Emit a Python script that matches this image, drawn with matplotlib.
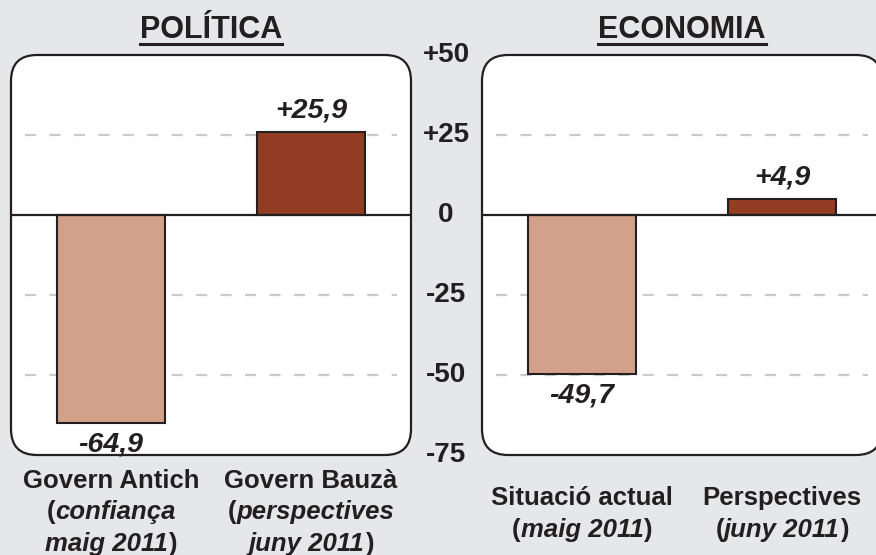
import matplotlib
matplotlib.use("Agg")
import matplotlib.pyplot as plt
from matplotlib.patches import FancyBboxPatch
from matplotlib.transforms import blended_transform_factory
from matplotlib.lines import Line2D

# ─────────────────────────────────────────────
# DADES
# ─────────────────────────────────────────────
PANEL_TITLES = ["POLÍTICA", "ECONOMIA"]
POLITICA_VALUES = [-64.9, 25.9]
ECONOMIA_VALUES = [-49.7, 4.9]

# cada etiqueta : llista de línies, cada línia : llista de (text, estil)
POLITICA_LABELS = [
    [[("Govern Antich", "b")], [("(", "b"), ("confiança", "bi")], [("maig 2011", "bi"), (")", "b")]],
    [[("Govern Bauzà", "b")], [("(", "b"), ("perspectives", "bi")], [("juny 2011", "bi"), (")", "b")]],
]
ECONOMIA_LABELS = [
    [[("Situació actual", "b")], [("(", "b"), ("maig 2011", "bi"), (")", "b")]],
    [[("Perspectives", "b")], [("(", "b"), ("juny 2011", "bi"), (")", "b")]],
]

Y_TICKS = [50, 25, 0, -25, -50, -75]
Y_TICK_LABELS = ["+50", "+25", "0", "-25", "-50", "-75"]
GRID_LEVELS = [25, -25, -50]

# ─────────────────────────────────────────────
# ESTIL
# ─────────────────────────────────────────────
BG = "#e6e7e9"
TXT = "#231f20"
COLORS = ["#d3a18a", "#923d23"]
FONT = "Liberation Sans"

W, H = 876, 555
fig = plt.figure(figsize=(W / 100, H / 100), dpi=100, facecolor=BG)
renderer = fig.canvas.get_renderer()


def px_axes(x0, y0_top, w, h):
    """Axes en píxels (origen a dalt a l'esquerra)."""
    return fig.add_axes([x0 / W, (H - y0_top - h) / H, w / W, h / H])


def style_kw(s):
    return dict(fontfamily=FONT, fontweight="bold",
                fontstyle="italic" if "i" in s else "normal")


def draw_segments(x_px, y_px, segments, size):
    """Escriu una línia amb trossos d'estil diferent, centrada a x_px."""
    widths = []
    for txt, s in segments:
        t = fig.text(0, 0, txt, fontsize=size, **style_kw(s))
        widths.append(t.get_window_extent(renderer).width)
        t.remove()
    x = x_px - sum(widths) / 2
    for (txt, s), w in zip(segments, widths):
        fig.text(x / W, (H - y_px) / H, txt, fontsize=size, color=TXT,
                 ha="left", va="center", **style_kw(s))
        x += w


def draw_panel(ax, title, values, labels, label_y):
    ax.set_xlim(0, 2)
    ax.set_ylim(-75, 50)
    ax.axis("off")

    box = FancyBboxPatch((0, 0), 1, 1, boxstyle="round,pad=0,rounding_size=0.065",
                         transform=ax.transAxes, facecolor="white",
                         edgecolor=TXT, lw=1.6, clip_on=False, zorder=0)
    ax.add_patch(box)

    ax.hlines(GRID_LEVELS, 0.07, 1.93, colors="#cbcbcb", lw=1.6,
              linestyles=(0, (5, 6)), zorder=1)
    ax.axhline(0, color=TXT, lw=1.6, zorder=3)

    xs = [0.5, 1.5]
    ax.bar(xs, values, width=0.54, color=COLORS, edgecolor=TXT, lw=1.5, zorder=2)

    for x, v in zip(xs, values):
        lab = f"{v:+.1f}".replace(".", ",")
        off = 6 if v > 0 else -6
        ax.annotate(lab, (x, v), xytext=(0, off), textcoords="offset points",
                    ha="center", va="bottom" if v > 0 else "top",
                    fontsize=20.5, color=TXT, **style_kw("bi"))

    # titol subratllat
    tr = blended_transform_factory(ax.transAxes, fig.transFigure)
    t = ax.text(0.5, (H - 38) / H, title, transform=tr, ha="center", va="baseline",
                fontsize=22, color=TXT, fontfamily=FONT, fontweight="bold")
    bb = t.get_window_extent(renderer)
    fig.add_artist(Line2D([bb.x0 / W, bb.x1 / W], [(H - 43.5) / H] * 2,
                          color=TXT, lw=2.2))

    # etiquetes de categoria
    for x, lines in zip(xs, labels):
        x_px = ax.transData.transform((x, 0))[0]
        n = len(lines)
        for i, segs in enumerate(lines):
            y_px = label_y + (i - (n - 1) / 2) * 31.5
            draw_segments(x_px, y_px, segs, 18.5)


ax_pol = px_axes(11, 55, 400, 400)
ax_eco = px_axes(482, 55, 400, 400)

draw_panel(ax_pol, PANEL_TITLES[0], POLITICA_VALUES, POLITICA_LABELS, 512)
draw_panel(ax_eco, PANEL_TITLES[1], ECONOMIA_VALUES, ECONOMIA_LABELS, 514)

# eix central
tr = blended_transform_factory(fig.transFigure, ax_pol.transData)
for v, lab in zip(Y_TICKS, Y_TICK_LABELS):
    fig.text(446 / W, v, lab, transform=tr, ha="center", va="center",
             fontsize=20, color=TXT, fontfamily=FONT, fontweight="bold")

fig.savefig("out.png", dpi=100, facecolor=BG)
